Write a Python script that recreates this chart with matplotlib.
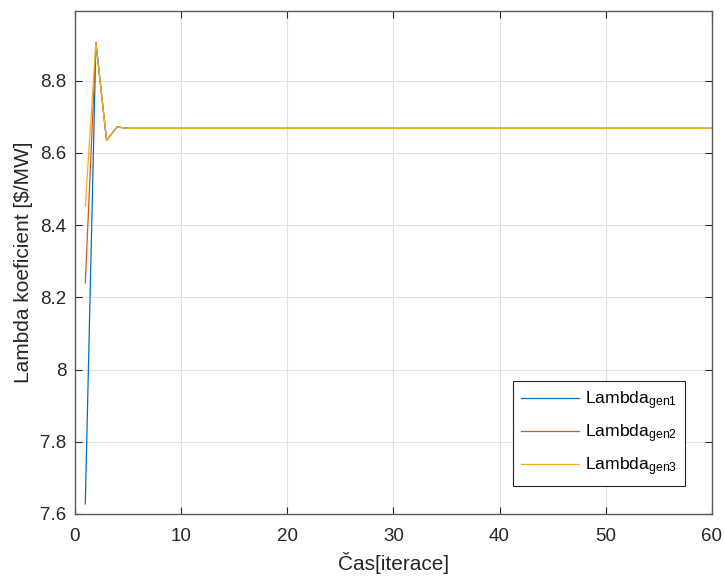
import matplotlib
matplotlib.use("Agg")
import matplotlib.pyplot as plt
import numpy as np

plt.rcParams['font.family'] = ['Liberation Sans', 'DejaVu Sans']
plt.rcParams['mathtext.fontset'] = 'custom'
plt.rcParams['mathtext.rm'] = 'Liberation Sans'
plt.rcParams['mathtext.it'] = 'Liberation Sans:italic'

# Iterations and lambda coefficients of the three generators
iterations = list(range(1, 61))
steady = 8.668
lambda_gen1 = [7.628, 8.906, 8.635, 8.672, 8.668] + [steady] * 55
lambda_gen2 = [8.240, 8.906, 8.635, 8.672, 8.668] + [steady] * 55
lambda_gen3 = [8.452, 8.906, 8.635, 8.672, 8.668] + [steady] * 55

series_labels = [r'Lambda$_{\rm gen1}$', r'Lambda$_{\rm gen2}$', r'Lambda$_{\rm gen3}$']
colors = ['#0072BD', '#D95319', '#EDB120']

x_ticks = [0, 10, 20, 30, 40, 50, 60]
y_ticks = [7.6, 7.8, 8.0, 8.2, 8.4, 8.6, 8.8]
y_tick_labels = ['7.6', '7.8', '8', '8.2', '8.4', '8.6', '8.8']

fig = plt.figure(figsize=(7.25, 5.79), dpi=100)
ax = fig.add_axes([0.103, 0.1123, 0.879, 0.8687])

for ys, lab, c in zip([lambda_gen1, lambda_gen2, lambda_gen3], series_labels, colors):
    ax.plot(iterations, ys, color=c, lw=0.9, label=lab)

ax.set_xlim(0, 60)
ax.set_ylim(7.6, 8.993)
ax.set_xticks(x_ticks)
ax.set_yticks(y_ticks)
ax.set_yticklabels(y_tick_labels)

edge = '#262626'
for s in ax.spines.values():
    s.set_color('#5a5a5a')
    s.set_linewidth(1.0)
ax.tick_params(direction='in', length=5, width=0.8, color=edge, labelcolor=edge,
               labelsize=13.5, top=True, right=True)
ax.tick_params(axis='x', pad=10)
ax.tick_params(axis='y', pad=6)
ax.grid(True, color='#e0e0e0', lw=0.8)
ax.set_axisbelow(True)

ax.set_xlabel('Čas[iterace]', fontsize=15, color=edge, labelpad=5)
ax.set_ylabel(r'Lambda koeficient [\$/MW]', fontsize=15, color=edge, labelpad=5)

leg = ax.legend(loc='lower right', bbox_to_anchor=(0.958, 0.056), borderaxespad=0,
                fontsize=12.6, handlelength=3.3, handletextpad=0.35, labelspacing=0.6,
                fancybox=False, framealpha=1, edgecolor='#262626',
                borderpad=0.45)
leg.get_frame().set_linewidth(0.8)

fig.savefig('out.png', dpi=100)
